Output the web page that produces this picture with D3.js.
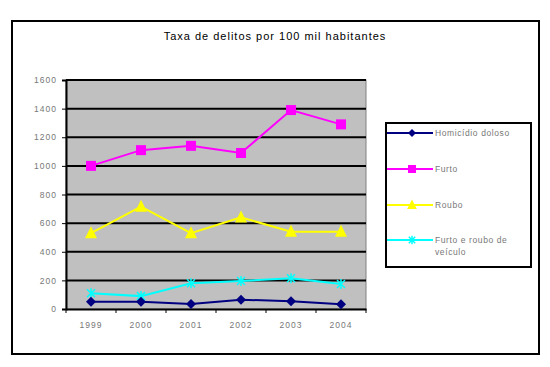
<!DOCTYPE html>
<html><head><meta charset="utf-8">
<script src="https://cdn.jsdelivr.net/npm/d3@7"></script>
<style>body{margin:0;background:#fff}svg{display:block}text{font-family:"Liberation Sans",Arial,sans-serif}</style>
</head><body>
<script>
const years = ["1999","2000","2001","2002","2003","2004"];
const homicidio = [50, 50, 35, 65, 55, 33];
const furto = [1000, 1110, 1140, 1090, 1390, 1290];
const roubo = [530, 715, 530, 640, 540, 540];
const furtoRoubo = [110, 90, 180, 195, 215, 175];
const seriesNames = ["Homicídio doloso","Furto","Roubo","Furto e roubo de veículo"];
const yTicks = [0,200,400,600,800,1000,1200,1400,1600];
const title = "Taxa de delitos por 100 mil habitantes";

const W=550,H=367;
const svg=d3.select("body").append("svg").attr("width",W).attr("height",H);
svg.append("rect").attr("x",12).attr("y",21).attr("width",527).attr("height",333)
  .attr("fill","#fff").attr("stroke","#000").attr("stroke-width",2);
svg.append("text").attr("x",275).attr("y",40).attr("text-anchor","middle")
  .attr("font-size",11).attr("letter-spacing",1).attr("fill","#000").text(title);

const x=d3.scaleBand().domain(years).range([66,366]);
const y=d3.scaleLinear().domain([0,1600]).range([309,80]);
svg.append("rect").attr("x",66).attr("y",80).attr("width",300).attr("height",229)
  .attr("fill","#c0c0c0").attr("stroke","#808080").attr("stroke-width",1);
svg.append("g").selectAll("line").data(yTicks.slice(1)).join("line")
  .attr("x1",66).attr("x2",366).attr("y1",d=>y(d)).attr("y2",d=>y(d))
  .attr("stroke","#000").attr("stroke-width",2);

const yAxis=svg.append("g").attr("transform","translate(66,0)")
  .call(d3.axisLeft(y).tickValues(yTicks).tickFormat(d3.format("d")).tickSize(4).tickPadding(5));
yAxis.select(".domain").attr("stroke","#000").attr("stroke-width",2);
yAxis.selectAll("line").attr("stroke","#000").attr("stroke-width",1);
yAxis.selectAll("text").attr("font-size",8.5).attr("letter-spacing",1).attr("fill","#777")
  .attr("font-family","'Liberation Sans',Arial,sans-serif");

const xAxis=svg.append("g").attr("transform","translate(0,309)")
  .call(d3.axisBottom(x).tickSize(0).tickPadding(13));
xAxis.select(".domain").attr("stroke","#000").attr("stroke-width",2);
xAxis.selectAll("text").attr("font-size",8.5).attr("letter-spacing",1).attr("fill","#777")
  .attr("font-family","'Liberation Sans',Arial,sans-serif");
const bounds=years.map(d=>x(d)).concat([x.range()[1]]);
svg.append("g").selectAll("line").data(bounds).join("line")
  .attr("x1",d=>d).attr("x2",d=>d).attr("y1",309).attr("y2",313)
  .attr("stroke","#000").attr("stroke-width",1);

const cx=d=>x(d)+x.bandwidth()/2;
const series=[
  {name:seriesNames[0],vals:homicidio,color:"#000080",shape:"diamond"},
  {name:seriesNames[1],vals:furto,color:"#ff00ff",shape:"square"},
  {name:seriesNames[2],vals:roubo,color:"#ffff00",shape:"triangle"},
  {name:seriesNames[3],vals:furtoRoubo,color:"#00ffff",shape:"star"}
];
const line=d3.line().x((v,i)=>cx(years[i])).y(v=>y(v));
function marker(g,shape,color,px,py,s){
  s=s||1;
  if(shape==="diamond"){
    const r=5*s;
    g.append("path").attr("d",`M${px},${py-r}L${px+r},${py}L${px},${py+r}L${px-r},${py}Z`).attr("fill",color);
  }else if(shape==="square"){
    const r=5*s;
    g.append("rect").attr("x",px-r).attr("y",py-r).attr("width",2*r).attr("height",2*r).attr("fill",color);
  }else if(shape==="triangle"){
    g.append("path").attr("d",`M${px},${py-7*s}L${px+6*s},${py+5*s}L${px-6*s},${py+5*s}Z`).attr("fill",color);
  }else{
    const r=4*s;
    g.append("path").attr("d",`M${px-r},${py-r}L${px+r},${py+r}M${px-r},${py+r}L${px+r},${py-r}M${px},${py-r-1}L${px},${py+r+1}`)
      .attr("stroke",color).attr("stroke-width",1.5).attr("fill","none");
  }
}
const draw=[series[1],series[2],series[3],series[0]];
draw.forEach(s=>{
  const g=svg.append("g");
  g.append("path").datum(s.vals).attr("d",line).attr("fill","none").attr("stroke",s.color).attr("stroke-width",2);
  s.vals.forEach((v,i)=>marker(g,s.shape,s.color,cx(years[i]),y(v)));
});

svg.append("rect").attr("x",386).attr("y",123).attr("width",145).attr("height",144)
  .attr("fill","#fff").attr("stroke","#000").attr("stroke-width",2);
const ly=[133,169,205,240];
series.forEach((s,i)=>{
  const g=svg.append("g");
  g.append("line").attr("x1",387).attr("x2",433).attr("y1",ly[i]).attr("y2",ly[i]).attr("stroke",s.color).attr("stroke-width",2);
  marker(g,s.shape,s.color,412,ly[i],0.8);
  const t=g.append("text").attr("x",435).attr("y",ly[i]+3).attr("font-size",8.5).attr("letter-spacing",0.6).attr("fill","#777");
  if(i===3){
    t.append("tspan").attr("x",435).text("Furto e roubo de");
    t.append("tspan").attr("x",435).attr("dy",12).text("veículo");
  } else t.text(s.name);
});
</script>
</body></html>
